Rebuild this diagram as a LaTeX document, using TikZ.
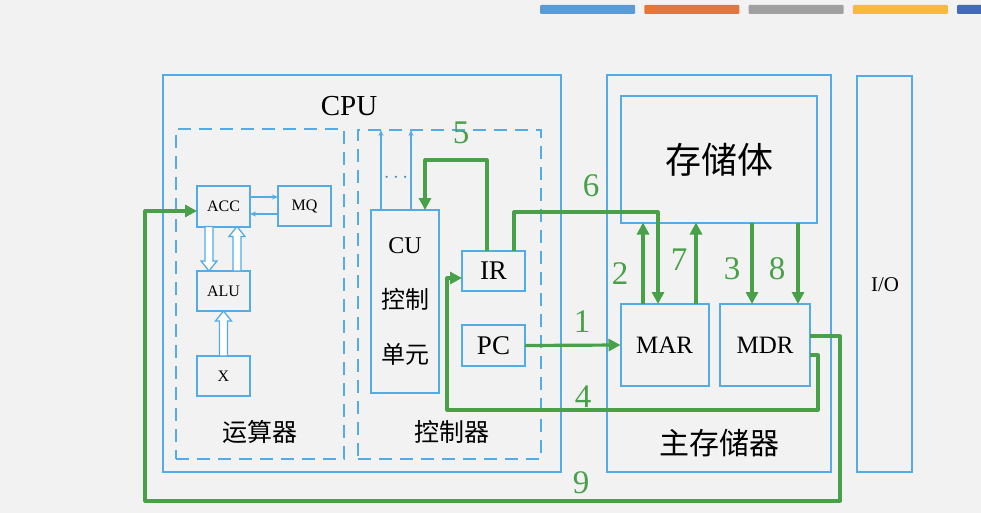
\documentclass[tikz,border=0pt]{standalone}
\usepackage{fontspec}
\setmainfont{Liberation Serif}
\newfontfamily\cjk{Noto Sans CJK SC}
\usetikzlibrary{arrows.meta,calc}
\definecolor{lblue}{RGB}{84,172,230}
\definecolor{fgreen}{RGB}{72,160,72}
\definecolor{bgpage}{RGB}{242,242,243}
\definecolor{barA}{RGB}{91,155,213}
\definecolor{barB}{RGB}{228,118,60}
\definecolor{barC}{RGB}{160,160,160}
\definecolor{barD}{RGB}{247,187,60}
\definecolor{barE}{RGB}{68,104,190}

\newcommand\hollowarr[2]{%
    \draw[hollowline] let \p1=#1, \p2=#2, \n1={sign(\y2-\y1)} in
        (\x1-4pt,\y1) -- (\x1-4pt,\y2-10pt*\n1) -- (\x1-8pt,\y2-10pt*\n1) -- (\x1,\y2)
        -- (\x1+8pt,\y2-10pt*\n1) -- (\x1+4pt,\y2-10pt*\n1) -- (\x1+4pt,\y1) -- cycle;
}

\begin{document}
\begin{tikzpicture}[x=1pt,y=-1pt,
    outerbox/.style={draw=lblue,line width=2.8pt,inner sep=0pt,outer sep=0pt},
    dashbox/.style={draw=lblue,line width=1.8pt,dash pattern=on 13pt off 8pt,inner sep=0pt,outer sep=0pt},
    reg/.style={draw=lblue,line width=2pt,inner sep=0pt,outer sep=0pt,minimum width=53pt,minimum height=40pt,font=\fontsize{16}{18}\selectfont},
    flow/.style={draw=fgreen,line width=3.2pt,line join=round,-{Triangle[length=12pt,width=12pt]}},
    wire/.style={draw=lblue,line width=1.3pt,-{Stealth[length=6pt,width=5pt]}},
    num/.style={text=fgreen,font=\fontsize{33}{36}\selectfont},
    hollowline/.style={draw=lblue,line width=1.3pt,fill=white}]

\path[fill=bgpage,use as bounding box] (0,0) rectangle (981,513);

\foreach \c [count=\i from 0] in {barA,barB,barC,barD,barE}
{
    \fill[\c,rounded corners=1pt] (540+\i*104.25,5) rectangle ++(95,9);
}

\node[outerbox,minimum width=398pt,minimum height=397pt] (cpu) at (362,273.5) {};
\node[outerbox,minimum width=224pt,minimum height=397pt] (mem) at (719,273.5) {};
\node[outerbox,minimum width=55pt,minimum height=396pt] (io) at (884.5,274) {};
\node[dashbox,minimum width=168pt,minimum height=330pt] (alubox) at (260,294) {};
\node[dashbox,minimum width=183pt,minimum height=329pt] (ctrlbox) at (449.5,294.5) {};
\node[outerbox,line width=2pt,minimum width=196pt,minimum height=126pt,font=\cjk\fontsize{36}{38}\selectfont] (storage) at (719,159.5) {存储体};

\node[font=\fontsize{29}{30}\selectfont] (cpulabel) at (349,106) {CPU};
\node[font=\cjk\fontsize{25}{26}\selectfont] (alulabel) at (260,432) {运算器};
\node[font=\cjk\fontsize{25}{26}\selectfont] (ctrllabel) at (452,432) {控制器};
\node[font=\cjk\fontsize{30}{32}\selectfont] (memlabel) at (719,443) {主存储器};
\node[font=\fontsize{21}{22}\selectfont] (iolabel) at (885,285) {I/O};

\node[reg,minimum height=41pt] (ACC) at (223.5,206) {ACC};
\node[reg] (MQ) at (304.5,206) {MQ};
\node[reg] (ALU) at (223.5,291) {ALU};
\node[reg] (X) at (223.5,376) {X};
\node[reg,minimum width=68pt,minimum height=183pt,align=center,font=\fontsize{24}{55}\selectfont] (CU) at (405,301.5) {CU\\{\cjk 控制}\\{\cjk 单元}};
\node[reg,minimum width=63pt,font=\fontsize{27}{28}\selectfont] (IR) at (493.5,271) {IR};
\node[reg,minimum width=63pt,minimum height=41pt,font=\fontsize{27}{28}\selectfont] (PC) at (493.5,345.5) {PC};
\node[reg,minimum width=88pt,minimum height=82pt,font=\fontsize{25}{26}\selectfont] (MAR) at (664.5,345) {MAR};
\node[reg,minimum width=90pt,minimum height=82pt,font=\fontsize{25}{26}\selectfont] (MDR) at (765,345) {MDR};

\draw[wire] ([yshift=9pt]ACC.east) -- ([yshift=9pt]MQ.west);
\draw[wire] ([yshift=-8pt]MQ.west) -- ([yshift=-8pt]ACC.east);
\hollowarr{([xshift=-14.5pt]ACC.south)}{(ALU.north)}
\hollowarr{([xshift=13.5pt]ALU.north)}{(ACC.south)}
\hollowarr{(X.north)}{(ALU.south)}

\coordinate (w1) at ([xshift=-24pt]CU.north);
\coordinate (w2) at ([xshift=6pt]CU.north);
\draw[wire] (w1) -- (w1 |- ctrlbox.north);
\draw[wire] (w2) -- (w2 |- ctrlbox.north);
\node[text=lblue!80!black,font=\fontsize{22}{22}\selectfont] (dots) at (396,178) {$\cdots$};

\coordinate (c5) at (425,160);
\coordinate (c6) at (658,212);
\coordinate (c4a) at (818,410);
\coordinate (c4b) at (447,410);
\coordinate (c9a) at (840,501);
\coordinate (c9b) at (145,501);
\coordinate (a2) at ([xshift=-21.5pt]MAR.north);
\coordinate (a7) at ([xshift=31.5pt]MAR.north);
\coordinate (a3) at ([xshift=-13pt]MDR.north);
\coordinate (a8) at ([xshift=33pt]MDR.north);

\draw[flow] (PC.east) -- (MAR.west);
\draw[flow] (a2) -- (a2 |- storage.south);
\draw[flow] (a3 |- storage.south) -- (a3);
\draw[flow] ([yshift=-10pt]MDR.east) -| (c4a) -- (c4b) |- ([yshift=-7pt]IR.west);
\draw[flow] ([xshift=-6.5pt]IR.north) |- (c5) -- (c5 |- CU.north);
\draw[flow] ([xshift=20.5pt]IR.north) |- (c6) -- (c6 |- MAR.north);
\draw[flow] (a7) -- (a7 |- storage.south);
\draw[flow] (a8 |- storage.south) -- (a8);
\draw[flow] ([yshift=9pt]MDR.east) -| (c9a) -- (c9b) |- ([yshift=-5pt]ACC.west);

\node[num] (n1) at (582,322) {1};
\node[num] (n2) at (620,274) {2};
\node[num] (n3) at (732,269) {3};
\node[num] (n4) at (583,397) {4};
\node[num] (n5) at (461,133) {5};
\node[num] (n6) at (591,186) {6};
\node[num] (n7) at (679,260) {7};
\node[num] (n8) at (777,269) {8};
\node[num] (n9) at (581,483) {9};

\end{tikzpicture}
\end{document}
